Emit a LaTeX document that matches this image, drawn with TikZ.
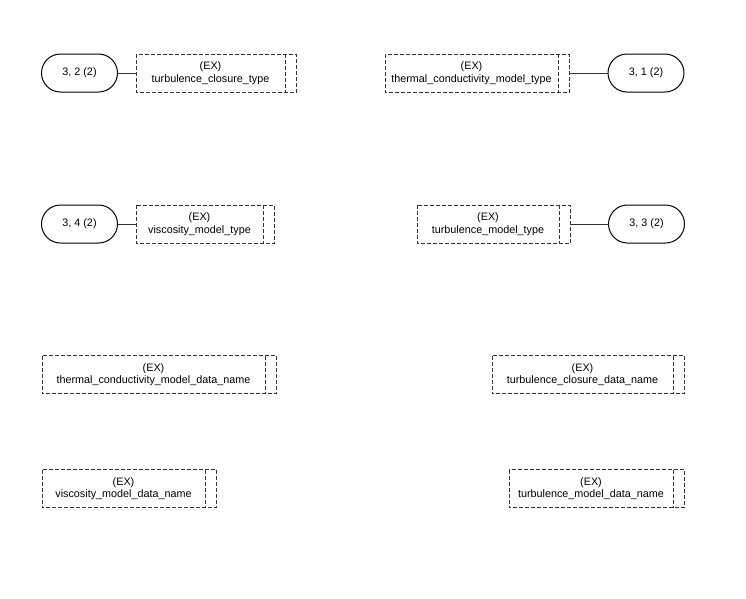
\documentclass[tikz,border=0pt]{standalone}
\usepackage{fontspec}
\setmainfont{Liberation Sans}
\begin{document}
\begin{tikzpicture}[x=1pt,y=-1pt,
  every node/.style={inner sep=0pt,outer sep=0pt,font=\fontsize{10.8}{12.5}\selectfont,align=center},
  oval/.style={draw=black,line width=1pt,rectangle,rounded corners=19pt,minimum width=76pt,minimum height=38pt},
  exbox/.style={rectangle,minimum height=38pt},
  extab/.style={rectangle,minimum height=38pt,minimum width=11.5pt,anchor=north west},
  dashline/.style={draw=black!80,line width=1pt,dash pattern=on 4pt off 2pt},
  conn/.style={draw=black!80,line width=1pt}]
\useasboundingbox (0,0) rectangle (746,598);
% row 1
\node[oval] (o32) at (79.5,73) {3, 2 (2)};
\node[exbox,minimum width=149pt] (b1) at (210.5,73) {(EX)\\turbulence\_closure\_type};
\node[extab] (b1t) at (b1.north east) {};
\node[exbox,minimum width=173pt] (b2) at (471.5,73) {(EX)\\thermal\_conductivity\_model\_type};
\node[extab] (b2t) at (b2.north east) {};
\node[oval] (o31) at (646,73) {3, 1 (2)};
% row 2
\node[oval] (o34) at (79.5,224) {3, 4 (2)};
\node[exbox,minimum width=127pt] (b3) at (199.5,224) {(EX)\\viscosity\_model\_type};
\node[extab] (b3t) at (b3.north east) {};
\node[exbox,minimum width=142pt] (b4) at (488,224) {(EX)\\turbulence\_model\_type};
\node[extab] (b4t) at (b4.north east) {};
\node[oval] (o33) at (646.5,224) {3, 3 (2)};
% row 3
\node[exbox,minimum width=223pt] (b5) at (153.5,374.5) {(EX)\\thermal\_conductivity\_model\_data\_name};
\node[extab] (b5t) at (b5.north east) {};
\node[exbox,minimum width=181pt] (b6) at (582.5,374.5) {(EX)\\turbulence\_closure\_data\_name};
\node[extab] (b6t) at (b6.north east) {};
% row 4
\node[exbox,minimum width=163pt] (b7) at (123.5,488.5) {(EX)\\viscosity\_model\_data\_name};
\node[extab] (b7t) at (b7.north east) {};
\node[exbox,minimum width=164pt] (b8) at (591,488.5) {(EX)\\turbulence\_model\_data\_name};
\node[extab] (b8t) at (b8.north east) {};
% dashed outlines and inner dividers
\foreach \b in {b1,b2,b3,b4,b5,b6,b7,b8}{
  \draw[dashline] (\b.north west) rectangle (\b t.south east);
  \draw[dashline] (\b.north east) -- (\b.south east);
}
% connectors
\draw[conn] (o32.east) -- (b1.west);
\draw[conn] (b2t.east) -- (o31.west);
\draw[conn] (o34.east) -- (b3.west);
\draw[conn] (b4t.east) -- (o33.west);
\end{tikzpicture}
\end{document}
